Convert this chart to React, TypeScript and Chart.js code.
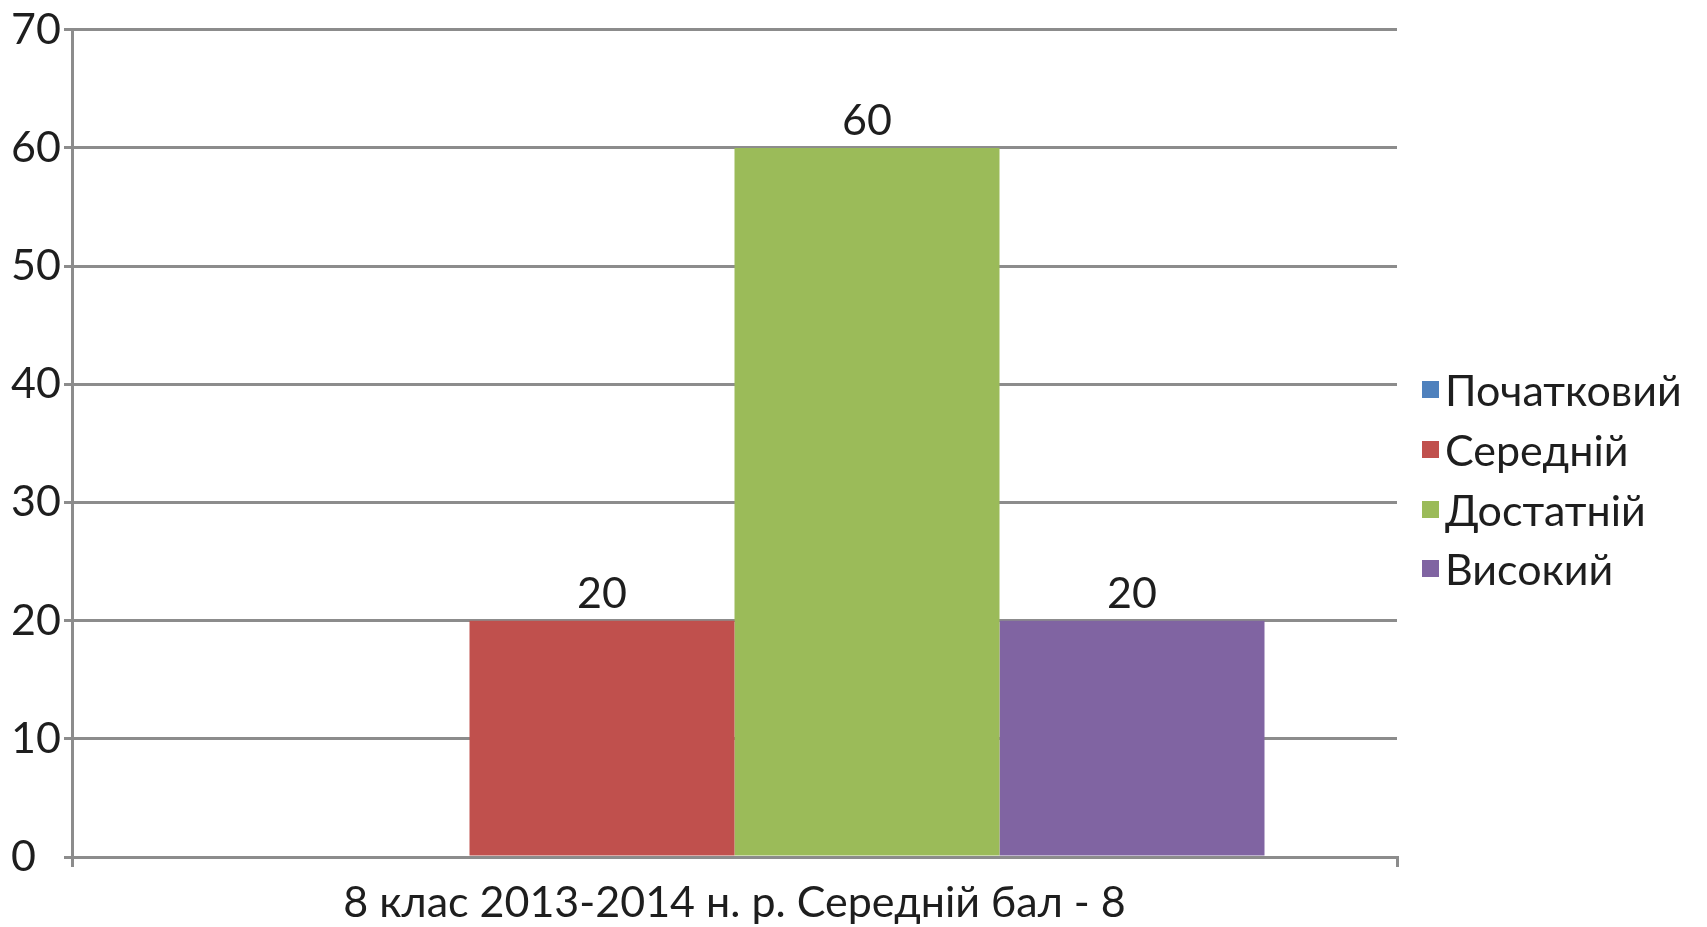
import React, { useEffect, useRef } from "react";
import { Chart, registerables } from "chart.js";

Chart.register(...registerables);

const categories = ["8 клас 2013-2014 н. р. Середній бал - 8"];
const seriesNames = ["Початковий", "Середній", "Достатній", "Високий"];
const seriesPochatkovyi = [0];
const seriesSerednii = [20];
const seriesDostatnii = [60];
const seriesVysokyi = [20];
const seriesColors = ["#4F81BD", "#C0504D", "#9BBB59", "#8064A2"];
const yTickValues = [0, 10, 20, 30, 40, 50, 60, 70];

const FONT = "Lato, 'Open Sans', 'Noto Sans', sans-serif";
const FONT_SIZE = 43;
const TEXT_COLOR = "#1e1e1e";
const GRID_COLOR = "#8c8c8c";

const valueLabels = {
  id: "valueLabels",
  afterDatasetsDraw(chart: any) {
    const ctx = chart.ctx;
    ctx.save();
    ctx.font = `${FONT_SIZE}px ${FONT}`;
    ctx.fillStyle = TEXT_COLOR;
    ctx.textAlign = "center";
    ctx.textBaseline = "alphabetic";
    chart.data.datasets.forEach((ds: any, i: number) => {
      const meta = chart.getDatasetMeta(i);
      meta.data.forEach((el: any, j: number) => {
        const v = ds.data[j];
        if (!v) return;
        ctx.fillText(String(v), el.x, el.y - 13);
      });
    });
    ctx.restore();
  },
};

export default function App() {
  const canvasRef = useRef<HTMLCanvasElement | null>(null);

  useEffect(() => {
    if (!canvasRef.current) return;
    const allSeries = [seriesPochatkovyi, seriesSerednii, seriesDostatnii, seriesVysokyi];
    const chart = new Chart(canvasRef.current, {
      type: "bar",
      data: {
        labels: categories,
        datasets: allSeries.map((d, i) => ({
          label: seriesNames[i],
          data: d,
          backgroundColor: seriesColors[i],
          borderWidth: 0,
          categoryPercentage: 0.8,
          barPercentage: 1.0,
        })),
      },
      options: {
        animation: false,
        responsive: true,
        maintainAspectRatio: false,
        layout: { padding: { left: 11, top: 27, right: 310, bottom: 0 } },
        plugins: {
          legend: { display: false },
          tooltip: { enabled: false },
          title: { display: false },
        },
        scales: {
          x: {
            offset: true,
            grid: {
              display: true,
              offset: true,
              drawOnChartArea: false,
              drawTicks: true,
              tickLength: 10,
              color: GRID_COLOR,
              lineWidth: 3,
            },
            border: { display: true, color: GRID_COLOR, width: 3 },
            ticks: {
              color: TEXT_COLOR,
              font: { family: FONT, size: FONT_SIZE },
              padding: 10,
              maxRotation: 0,
            },
            afterFit: (s: any) => {
              s.height = 70;
            },
          },
          y: {
            min: 0,
            max: 70,
            grid: {
              display: true,
              drawTicks: true,
              tickLength: 8,
              color: GRID_COLOR,
              lineWidth: 3,
            },
            border: { display: true, color: GRID_COLOR, width: 3 },
            ticks: {
              color: TEXT_COLOR,
              font: { family: FONT, size: FONT_SIZE },
              crossAlign: "far",
              padding: 4,
            },
            afterBuildTicks: (s: any) => {
              s.ticks = yTickValues.map((v) => ({ value: v }));
            },
            afterFit: (s: any) => {
              s.width = 61;
            },
          },
        },
      },
      plugins: [valueLabels],
    } as any);
    return () => chart.destroy();
  }, []);

  return (
    <div style={{ position: "absolute", left: 0, top: 0, width: 1707, height: 927, background: "#fff", overflow: "hidden" }}>
      <canvas ref={canvasRef} />
      <div style={{ position: "absolute", left: 1422, top: 360, fontFamily: FONT, fontSize: FONT_SIZE, color: TEXT_COLOR }}>
        {seriesNames.map((name, i) => (
          <div key={name} style={{ height: 59.7, display: "flex", alignItems: "center", whiteSpace: "nowrap" }}>
            <span style={{ display: "inline-block", width: 17, height: 17, background: seriesColors[i], marginRight: 6 }} />
            <span style={{ lineHeight: 1 }}>{name}</span>
          </div>
        ))}
      </div>
    </div>
  );
}
